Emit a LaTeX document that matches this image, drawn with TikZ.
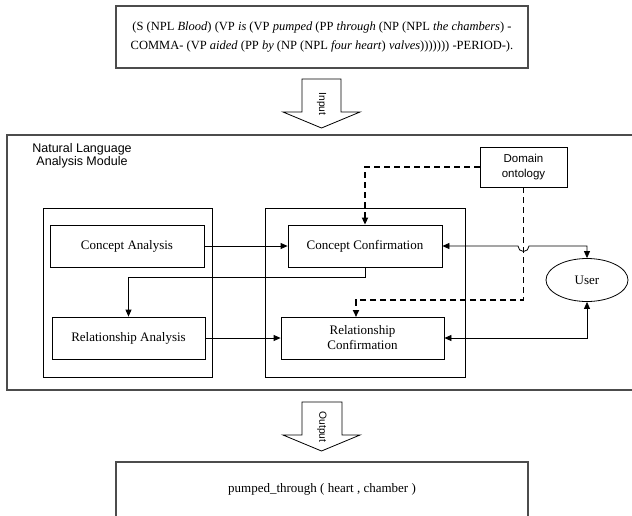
\documentclass[tikz,border=0pt]{standalone}
\usepackage{fontspec}
\setmainfont{Liberation Serif}
\setsansfont{Liberation Sans}
\usetikzlibrary{arrows.meta,calc,shapes.geometric}
\begin{document}
\begin{tikzpicture}[x=1pt,y=-1pt,
  outer/.style={draw=black!70, line width=1.3pt},
  box/.style={draw, line width=0.8pt, align=center, font=\fontsize{13}{15}\selectfont, inner sep=0pt},
  tip/.style={-{Triangle[length=7pt,width=6pt]}},
  conn/.style={line width=0.8pt, tip},
  biconn/.style={line width=0.8pt, {Triangle[length=7pt,width=6pt]}-{Triangle[length=7pt,width=6pt]}},
  dconn/.style={line width=1.6pt, dash pattern=on 6pt off 4pt, tip},
  blockarrow/.style={draw, line width=0.8pt, fill=white, line join=miter},
  arrowtext/.style={font=\sffamily\fontsize{10.3}{12}\selectfont, rotate=-90, inner sep=0pt}
]
\useasboundingbox (0,0) rectangle (632,515);
\clip (0,0) rectangle (632,515);

% top input box
\node[outer, minimum width=412pt, minimum height=62pt, align=center,
      font=\fontsize{12.5}{18.5}\selectfont, inner sep=0pt] (in) at (322,37)
  {(S (NPL \textit{Blood}) (VP \textit{is} (VP \textit{pumped} (PP \textit{through} (NP (NPL \textit{the chambers}) -\\
   COMMA- (VP \textit{aided} (PP \textit{by} (NP (NPL \textit{four heart}) \textit{valves}))))))) -PERIOD-).};

% input block arrow
\draw[blockarrow] (302,79) -- (341,79) -- (341,112) -- (360,112) -- (321.5,128) -- (283,112) -- (302,112) -- cycle;
\node[arrowtext] (inlbl) at (321.5,104) {Input};

% module
\node[outer, minimum width=628pt, minimum height=255pt, inner sep=0pt] (mod) at (321,262.5) {};
\node[font=\sffamily\fontsize{12.5}{13}\selectfont, align=center, inner sep=0pt] (modlbl) at (82,155.5)
  {Natural Language\\Analysis Module};

% containers
\node[draw, line width=0.8pt, minimum width=169pt, minimum height=169pt, inner sep=0pt] (leftc) at (127.5,292.5) {};
\node[draw, line width=0.8pt, minimum width=200pt, minimum height=169pt, inner sep=0pt] (midc) at (365,292.5) {};

% boxes
\node[box, minimum width=154pt, minimum height=42pt] (CA) at (127,246) {Concept Analysis};
\node[box, minimum width=154pt, minimum height=42pt] (CC) at (365,246) {Concept Confirmation};
\node[box, minimum width=153pt, minimum height=42pt] (RA) at (128.5,338) {Relationship Analysis};
\node[box, minimum width=163pt, minimum height=42pt] (RC) at (362.5,338) {Relationship\\Confirmation};
\node[draw, line width=0.8pt, minimum width=87pt, minimum height=40pt, inner sep=0pt,
      font=\sffamily\fontsize{11.5}{14.5}\selectfont, align=center] (dom) at (523.5,167) {Domain\\ontology};
\node[draw, ellipse, line width=0.8pt, minimum width=82pt, minimum height=43pt, inner sep=0pt,
      font=\fontsize{13}{15}\selectfont] (user) at (587,280) {User};

% connectors
\draw[conn] (CA.east) -- (CC.west);
\draw[conn] (RA.east) -- (RC.west);
\draw[conn] (CC.south) -- (365,277) -| (RA.north);
\coordinate (hopL) at (518,246);
\draw[biconn] (CC.east) -- (hopL) arc[start angle=180, end angle=0, radius=5.5] -- (user.north |- CC.east) -- (user.north);
\draw[biconn] (RC.east) -- (user.south |- RC.east) -- (user.south);
\draw[dconn] (dom.west) -| (CC.north);
\coordinate (rcin) at (356,317);
\draw[dconn] (dom.south) |- (356,300) -- (rcin);

% output block arrow
\draw[blockarrow] (302,402) -- (342,402) -- (342,435) -- (360,435) -- (321.5,451) -- (283,435) -- (302,435) -- cycle;
\node[arrowtext] (outlbl) at (322,427) {Output};

% bottom output box
\draw[black!70, line width=1.3pt] (116,530) -- (116,462) -- (528,462) -- (528,530);
\coordinate (outbox) at (322,462);
\node[font=\fontsize{13}{15}\selectfont, inner sep=0pt] (res) at (322,489) {pumped\_through ( heart , chamber )};
\end{tikzpicture}
\end{document}
